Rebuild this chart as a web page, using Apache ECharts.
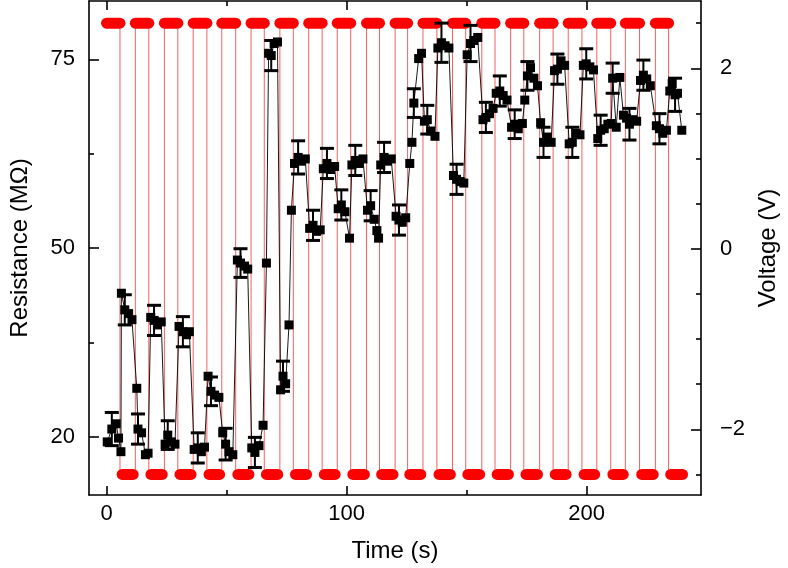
<!DOCTYPE html>
<html>
<head>
<meta charset="utf-8">
<script src="https://cdn.jsdelivr.net/npm/echarts@6/dist/echarts.min.js"></script>
<style>
html,body{margin:0;padding:0;background:#fff;}
#chart{width:788px;height:568px;}
</style>
</head>
<body>
<div id="chart"></div>
<script>
// ---- Resistance data (time s, resistance, error half-length; 0 = no bar) ----
const timeS = [
 0.3,2.2,4.0,5.0,6.0,
 6.2,7.6,9.2,10.6,
 12.6,13.1,14.6,16.2,17.3,
 18.4,19.8,21.2,22.8,
 24.4,25.5,27.0,28.5,
 30.2,31.8,33.3,34.5,
 36.5,38.0,39.5,40.8,
 42.3,43.5,45.0,46.8,
 48.4,49.6,51.0,52.6,
 54.5,55.8,57.5,58.8,
 60.5,61.8,63.5,65.2,
 66.6,67.5,68.6,69.8,71.2,
 72.5,73.5,74.6,76.0,77.0,
 78.3,79.8,81.2,82.8,
 84.6,86.0,87.5,89.0,
 90.3,91.8,93.3,95.0,
 96.5,97.8,99.3,101.2,
 102.2,103.6,105.2,106.8,
 108.7,110.0,111.5,112.6,113.3,
 114.2,115.6,117.0,118.6,
 120.6,121.8,123.2,124.6,
 126.3,127.2,128.0,130.0,131.2,
 132.4,133.6,135.0,136.8,
 138.0,139.5,141.0,142.6,
 144.5,145.8,147.3,148.8,
 150.2,151.6,153.0,154.6,
 156.8,158.0,159.5,161.0,
 162.3,163.8,165.2,166.8,
 168.7,170.0,171.5,173.2,
 174.2,175.3,176.6,178.0,179.5,
 180.8,182.0,183.5,185.2,
 186.6,187.8,189.3,190.8,
 192.7,194.0,195.5,197.2,
 198.6,199.8,201.3,202.8,
 204.6,205.8,207.3,208.8,
 210.2,210.8,212.3,213.8,215.3,
 216.6,217.8,219.3,220.8,
 222.4,223.6,225.0,226.5,
 229.0,230.3,231.7,233.2,
 234.6,235.6,236.8,237.8,239.6
];
const resistance = [
 24.3,26.0,26.7,24.8,23.0,
 44.0,41.8,41.3,40.5,
 31.4,26.0,25.5,22.6,22.8,
 40.8,40.4,39.8,40.2,
 24.0,25.2,24.3,24.0,
 39.6,38.9,38.5,38.9,
 23.3,23.5,23.0,23.6,
 33.0,31.0,30.5,30.2,
 25.5,24.0,23.0,22.6,
 48.4,48.0,47.6,47.2,
 23.5,22.9,23.8,26.5,
 48.0,75.8,75.5,77.1,77.3,
 31.2,33.0,32.0,39.8,55.0,
 61.2,62.0,61.5,61.8,
 52.6,53.0,52.2,52.4,
 60.5,61.2,60.4,60.8,
 55.2,55.7,54.8,51.3,
 61.0,61.6,61.2,61.8,
 55.0,55.6,53.8,52.3,51.3,
 61.0,62.0,61.5,61.8,
 54.2,53.7,53.4,54.0,
 61.2,64.0,69.2,75.1,75.8,
 66.8,67.0,65.5,64.8,
 76.5,77.2,76.8,76.5,
 59.6,59.1,58.8,58.6,
 75.6,77.1,77.5,77.9,
 67.0,67.3,67.8,68.5,
 70.5,70.8,70.2,69.6,
 66.0,66.4,65.8,66.5,
 69.6,72.8,73.9,72.5,71.5,
 66.6,64.0,64.7,64.0,
 73.5,73.7,74.8,74.2,
 63.8,64.0,65.2,65.0,
 74.2,74.4,74.0,73.6,
 64.5,65.6,65.8,66.4,
 66.5,72.5,66.0,72.6,67.6,
 67.2,66.4,67.0,66.8,
 72.2,72.9,72.4,71.5,
 66.2,65.8,65.2,65.6,
 70.8,71.8,70.3,70.5,65.6
];
const resErr = [
 0,2.2,0,0,0,
 0,2.0,0,0,
 0,2.0,0,0,0,
 0,2.0,0,0,
 0,1.9,0,0,
 0,2.0,0,0,
 0,2.0,0,0,
 0,1.9,0,0,
 0,2.1,0,0,
 0,1.9,0,0,
 0,2.0,0,0,
 0,0,2.0,0,0,
 0,2.0,0,0,0,
 0,2.2,0,0,
 0,2.0,0,0,
 0,2.0,0,0,
 0,2.0,0,0,
 0,2.0,0,0,
 0,2.0,0,0,0,
 0,2.0,0,0,
 0,2.0,0,0,
 0,0,1.9,0,0,
 0,1.9,0,0,
 0,2.6,0,0,
 0,2.0,0,0,
 0,2.4,0,0,
 0,2.0,0,0,
 0,2.0,0,0,
 0,1.9,0,0,
 0,1.9,0,0,0,
 0,2.0,0,0,
 0,2.0,0,0,
 0,2.0,0,0,
 0,2.0,0,0,
 0,2.0,0,0,
 0,2.0,0,0,0,
 0,2.1,0,0,
 0,2.0,0,0,
 0,2.0,0,0,
 0,0,2.2,0,0
];

// ---- Voltage square wave: switching times (s) and levels (V) ----
const voltStart = 0;
const voltEnd = 240.8;
const voltSwitchTimes = [5.6,12.0,17.6,24.1,29.7,36.1,41.8,48.0,53.8,60.2,65.7,72.2,77.8,84.2,89.8,96.1,101.7,108.3,113.7,120.2,125.4,131.8,137.6,144.1,149.6,156.3,161.8,168.3,173.8,180.4,186.0,192.3,198.0,204.2,210.0,216.1,222.0,228.6,234.1];
const voltHigh = 2.5;
const voltLow = -2.5;

// ---- Axis ticks and labels ----
const xMajorTicks = [0,100,200];
const xMinorTicks = [50,150];
const leftMajorTicks = [25,50,75];
const leftTickLabels = ['20','50','75'];
const leftMinorTicks = [37.5,62.5];
const rightMajorTicks = [-2,0,2];
const rightTickLabels = ['\u22122','0','2'];
const rightMinorTicks = [-2.5,-1.5,-1,-0.5,0.5,1,1.5,2.5];

// ---- build series data ----
const edges = [voltStart].concat(voltSwitchTimes, [voltEnd]);
const waveLine = [];
const pills = [];
for (let i = 0; i < edges.length - 1; i++) {
  const lvl = (i % 2 === 0) ? voltHigh : voltLow;
  waveLine.push([edges[i], lvl]);
  waveLine.push([edges[i+1], lvl]);
  pills.push([edges[i], edges[i+1], lvl]);
}
const resLine = timeS.map((t,i) => [t, resistance[i]]);
const errData = [];
timeS.forEach((t,i) => { if (resErr[i] > 0) errData.push([t, resistance[i], resErr[i]]); });

const FONT = 'Liberation Sans, Arial, Helvetica, sans-serif';
const chart = echarts.init(document.getElementById('chart'), null, {renderer:'canvas'});

const axisLineStyle = {color:'#000', width:1.6};
function xAx(pos, ticks, len, showLine, labels, extra) {
  return Object.assign({
    type:'value', min:-7.3, max:247.6, position:pos,
    axisLine:{show:showLine, onZero:false, lineStyle:axisLineStyle},
    axisTick:{show:true, inside:true, length:len, customValues:ticks, lineStyle:{color:'#000', width:1.6}},
    axisLabel: labels ? {show:true, customValues:labels, color:'#000', fontSize:22, fontFamily:FONT, margin:8} : {show:false},
    splitLine:{show:false}
  }, extra || {});
}
function yAx(pos, min, max, ticks, len, showLine, labels, fmt, extra) {
  return Object.assign({
    type:'value', min:min, max:max, position:pos,
    axisLine:{show:showLine, onZero:false, lineStyle:axisLineStyle},
    axisTick:{show:true, inside:true, length:len, customValues:ticks, lineStyle:{color:'#000', width:1.6}},
    axisLabel: labels ? {show:true, customValues:labels, formatter:fmt, color:'#000', fontSize:22, fontFamily:FONT, margin:pos==='left'?14:19} : {show:false},
    splitLine:{show:false}
  }, extra || {});
}

const option = {
  animation:false,
  backgroundColor:'#fff',
  grid:{left:87, right:87, top:1, bottom:73, containLabel:false},
  xAxis:[
    xAx('bottom', xMajorTicks, 9, true, xMajorTicks, {name:'Time (s)', nameLocation:'middle', nameGap:44, nameTextStyle:{color:'#000', fontSize:24, fontFamily:FONT}}),
    xAx('bottom', xMinorTicks, 5, false, null),
    xAx('top', xMajorTicks, 9, true, null),
    xAx('top', xMinorTicks, 5, false, null)
  ],
  yAxis:[
    yAx('left', 17.26, 82.73, leftMajorTicks, 10, true, leftMajorTicks,
        v => leftTickLabels[leftMajorTicks.indexOf(v)] || '',
        {name:'Resistance (M\u03A9)', nameLocation:'middle', nameRotate:90, nameGap:57, nameTextStyle:{color:'#000', fontSize:24, fontFamily:FONT}}),
    yAx('right', -2.728, 2.746, rightMajorTicks, 10, true, rightMajorTicks,
        v => rightTickLabels[rightMajorTicks.indexOf(v)] || '',
        {name:'Voltage (V)', nameLocation:'middle', nameRotate:90, nameGap:54, nameTextStyle:{color:'#000', fontSize:24, fontFamily:FONT}}),
    yAx('left', 17.26, 82.73, leftMinorTicks, 5, false, null),
    yAx('right', -2.728, 2.746, rightMinorTicks, 5, false, null)
  ],
  series:[
    {
      type:'line', xAxisIndex:0, yAxisIndex:1, data:waveLine,
      showSymbol:false, symbol:'none', z:1,
      lineStyle:{color:'rgba(235,60,60,0.8)', width:1}
    },
    {
      type:'custom', xAxisIndex:0, yAxisIndex:1, data:pills, z:2,
      encode:{x:[0,1], y:2},
      renderItem:function(params, api){
        const t0 = api.value(0), t1 = api.value(1), v = api.value(2);
        const inset = v < 0 ? 0.9 : 0;
        const p0 = api.coord([t0 + inset, v]);
        const p1 = api.coord([t1 - inset, v]);
        return {type:'line', shape:{x1:p0[0], y1:p0[1], x2:p1[0], y2:p1[1]},
          style:{stroke:'#ff0000', lineWidth:11, lineCap:'round'}};
      }
    },
    {
      type:'line', xAxisIndex:0, yAxisIndex:0, data:resLine, z:4,
      symbol:'rect', symbolSize:9, showSymbol:true,
      itemStyle:{color:'#000'},
      lineStyle:{color:'#000', width:0.9}
    },
    {
      type:'custom', xAxisIndex:0, yAxisIndex:0, data:errData, z:5,
      encode:{x:0, y:1},
      renderItem:function(params, api){
        const t = api.value(0), v = api.value(1), e = api.value(2);
        const a = api.coord([t, v + e]);
        const b = api.coord([t, v - e]);
        const hw = 7;
        return {type:'group', children:[
          {type:'line', shape:{x1:a[0], y1:a[1], x2:b[0], y2:b[1]}, style:{stroke:'#000', lineWidth:2}},
          {type:'line', shape:{x1:a[0]-hw, y1:a[1], x2:a[0]+hw, y2:a[1]}, style:{stroke:'#000', lineWidth:3}},
          {type:'line', shape:{x1:b[0]-hw, y1:b[1], x2:b[0]+hw, y2:b[1]}, style:{stroke:'#000', lineWidth:3}}
        ]};
      }
    }
  ]
};
chart.setOption(option);
</script>
</body>
</html>
